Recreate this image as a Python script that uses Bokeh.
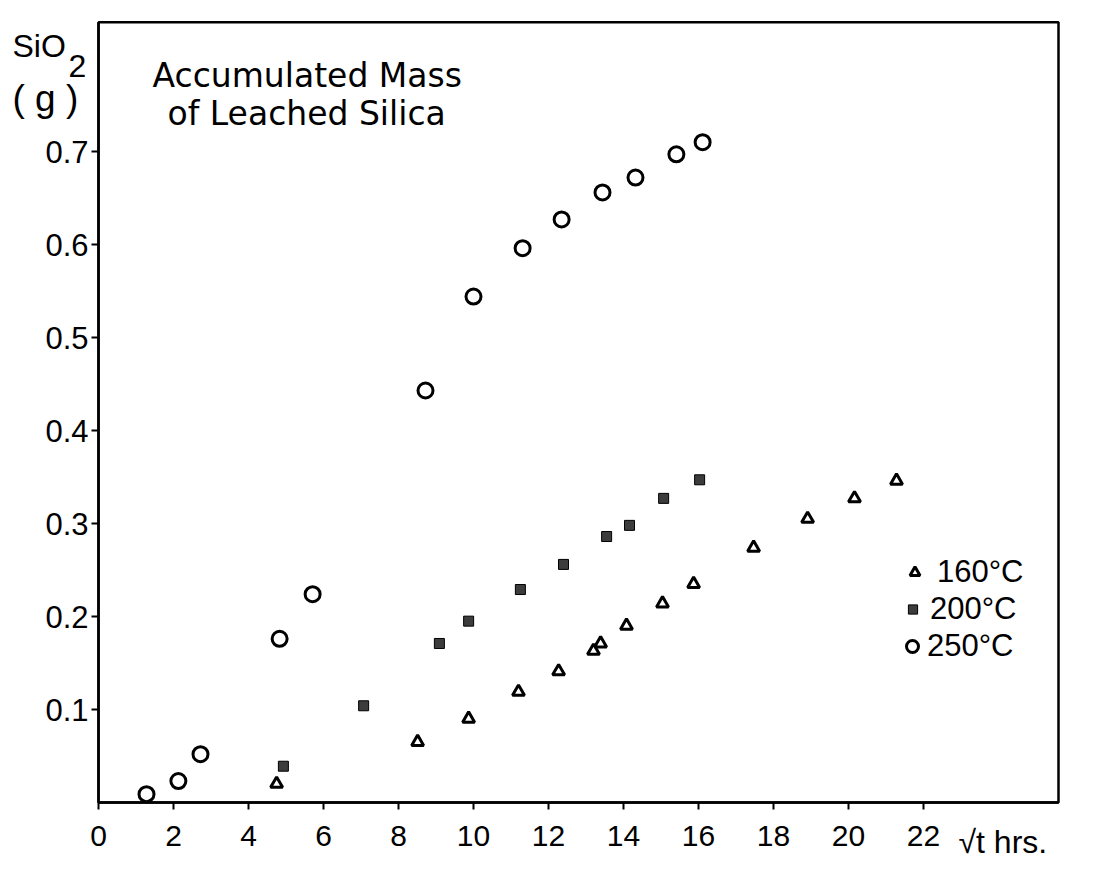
from bokeh.plotting import figure
from bokeh.models import (Range1d, FixedTicker, Label, Legend, LegendItem,
                          LinearAxis, BoxAnnotation)
from bokeh.embed import file_html
from bokeh.resources import INLINE

# ---- data ----
t160_x = [4.75, 8.51, 9.87, 11.2, 12.27, 13.2, 13.39, 14.08, 15.04, 15.87, 17.47, 18.91, 20.16, 21.28]
t160_y = [0.020, 0.065, 0.090, 0.119, 0.141, 0.163, 0.171, 0.190, 0.214, 0.235, 0.274, 0.305, 0.327, 0.346]

t200_x = [4.93, 7.07, 9.09, 9.87, 11.25, 12.40, 13.55, 14.16, 15.07, 16.03]
t200_y = [0.039, 0.104, 0.171, 0.195, 0.229, 0.256, 0.286, 0.298, 0.327, 0.347]

t250_x = [1.28, 2.13, 2.72, 4.83, 5.71, 8.72, 10.0, 11.31, 12.35, 13.44, 14.32, 15.41, 16.11]
t250_y = [0.009, 0.023, 0.052, 0.176, 0.224, 0.443, 0.544, 0.596, 0.627, 0.656, 0.672, 0.697, 0.710]

x_ticks = [0, 2, 4, 6, 8, 10, 12, 14, 16, 18, 20, 22]
y_ticks = [0.1, 0.2, 0.3, 0.4, 0.5, 0.6, 0.7]
series_labels = ["160°C", "200°C", "250°C"]

# axis extents (box of the chart)
X_MAX = 25.6
Y_MAX = 0.839

DIGIT_FONT = "Liberation Sans"
WORD_FONT = "Liberation Sans"
TITLE_FONT = "DejaVu Sans"

W, H = 1080, 858
p = figure(width=W, height=H, output_backend="svg", toolbar_location=None,
           x_range=Range1d(-98 / 37.5, (W - 98) / 37.5),
           y_range=Range1d(-(H - 802) / 930, 802 / 930),
           x_axis_location=None, y_axis_location=None,
           min_border=0)
p.grid.visible = False
p.outline_line_color = None
p.background_fill_color = "white"
p.border_fill_color = "white"

xaxis = LinearAxis(fixed_location=0, bounds=(0, X_MAX), ticker=FixedTicker(ticks=x_ticks))
yaxis = LinearAxis(fixed_location=0, bounds=(0, Y_MAX), ticker=FixedTicker(ticks=y_ticks))
for ax in (xaxis, yaxis):
    ax.axis_line_color = "black"
    ax.axis_line_width = 2.5
    ax.major_tick_line_color = "black"
    ax.major_tick_line_width = 2
    ax.major_tick_out = 7
    ax.major_tick_in = 0
    ax.minor_tick_line_color = None
    ax.major_label_text_font = DIGIT_FONT
    ax.major_label_text_color = "black"
xaxis.major_label_text_font_size = "30px"
yaxis.major_label_text_font_size = "31px"
xaxis.major_label_standoff = 16
yaxis.major_label_standoff = 3
p.add_layout(xaxis, "below")
p.add_layout(yaxis, "left")

# chart box (top and right edges)
p.add_layout(BoxAnnotation(left=0, right=X_MAX, bottom=0, top=Y_MAX,
                           fill_alpha=0, line_color="black", line_alpha=1.0,
                           line_width=2.5))

r160 = p.scatter(t160_x, t160_y, marker="triangle", size=12, line_color="black",
                 line_width=3, fill_color="white")
r200 = p.scatter(t200_x, t200_y, marker="square", size=10, line_color="black",
                 line_width=1, fill_color="#3c3c3c")
r250 = p.scatter(t250_x, t250_y, marker="circle", size=15, line_color="black",
                 line_width=3, fill_color="white")

def add_legend(label, rend, left, center_y, gw, standoff):
    gh = 34
    lg = Legend(items=[LegendItem(label=label, renderers=[rend])],
                location=(left, H - center_y - gh / 2), orientation="vertical",
                background_fill_alpha=0, border_line_color=None,
                padding=0, margin=0, spacing=0,
                glyph_width=gw, glyph_height=gh, label_height=gh,
                label_standoff=standoff,
                label_text_font=DIGIT_FONT, label_text_font_size="31px",
                label_text_color="black")
    p.add_layout(lg, "center")

add_legend(series_labels[0], r160, 902, 573, 25, 10)
add_legend(series_labels[1], r200, 901, 610, 23, 6)
add_legend(series_labels[2], r250, 897, 647, 30, 0)

SHIFT = 10  # labels draw ~10px below the given baseline

def lab(text, x, y, size, font=WORD_FONT):
    p.add_layout(Label(x=x, y=H - y + SHIFT, x_units="screen", y_units="screen", text=text,
                       text_font=font, text_font_size=size, text_color="black",
                       text_baseline="alphabetic", text_align="left"))

# y axis title (SiO2 (g)) above the axis
lab("SiO", 12, 55, "32px")
lab("2", 68, 75, "32px")
lab("( g )", 12, 108, "37px")
# chart title inside the box
lab("Accumulated Mass", 152, 85, "33px", TITLE_FONT)
lab("of Leached Silica", 167, 123, "33px", TITLE_FONT)
# x axis title at the end of the tick row
lab("√t hrs.", 958, 851, "32px")

open("out.html", "w").write(file_html(p, INLINE))
